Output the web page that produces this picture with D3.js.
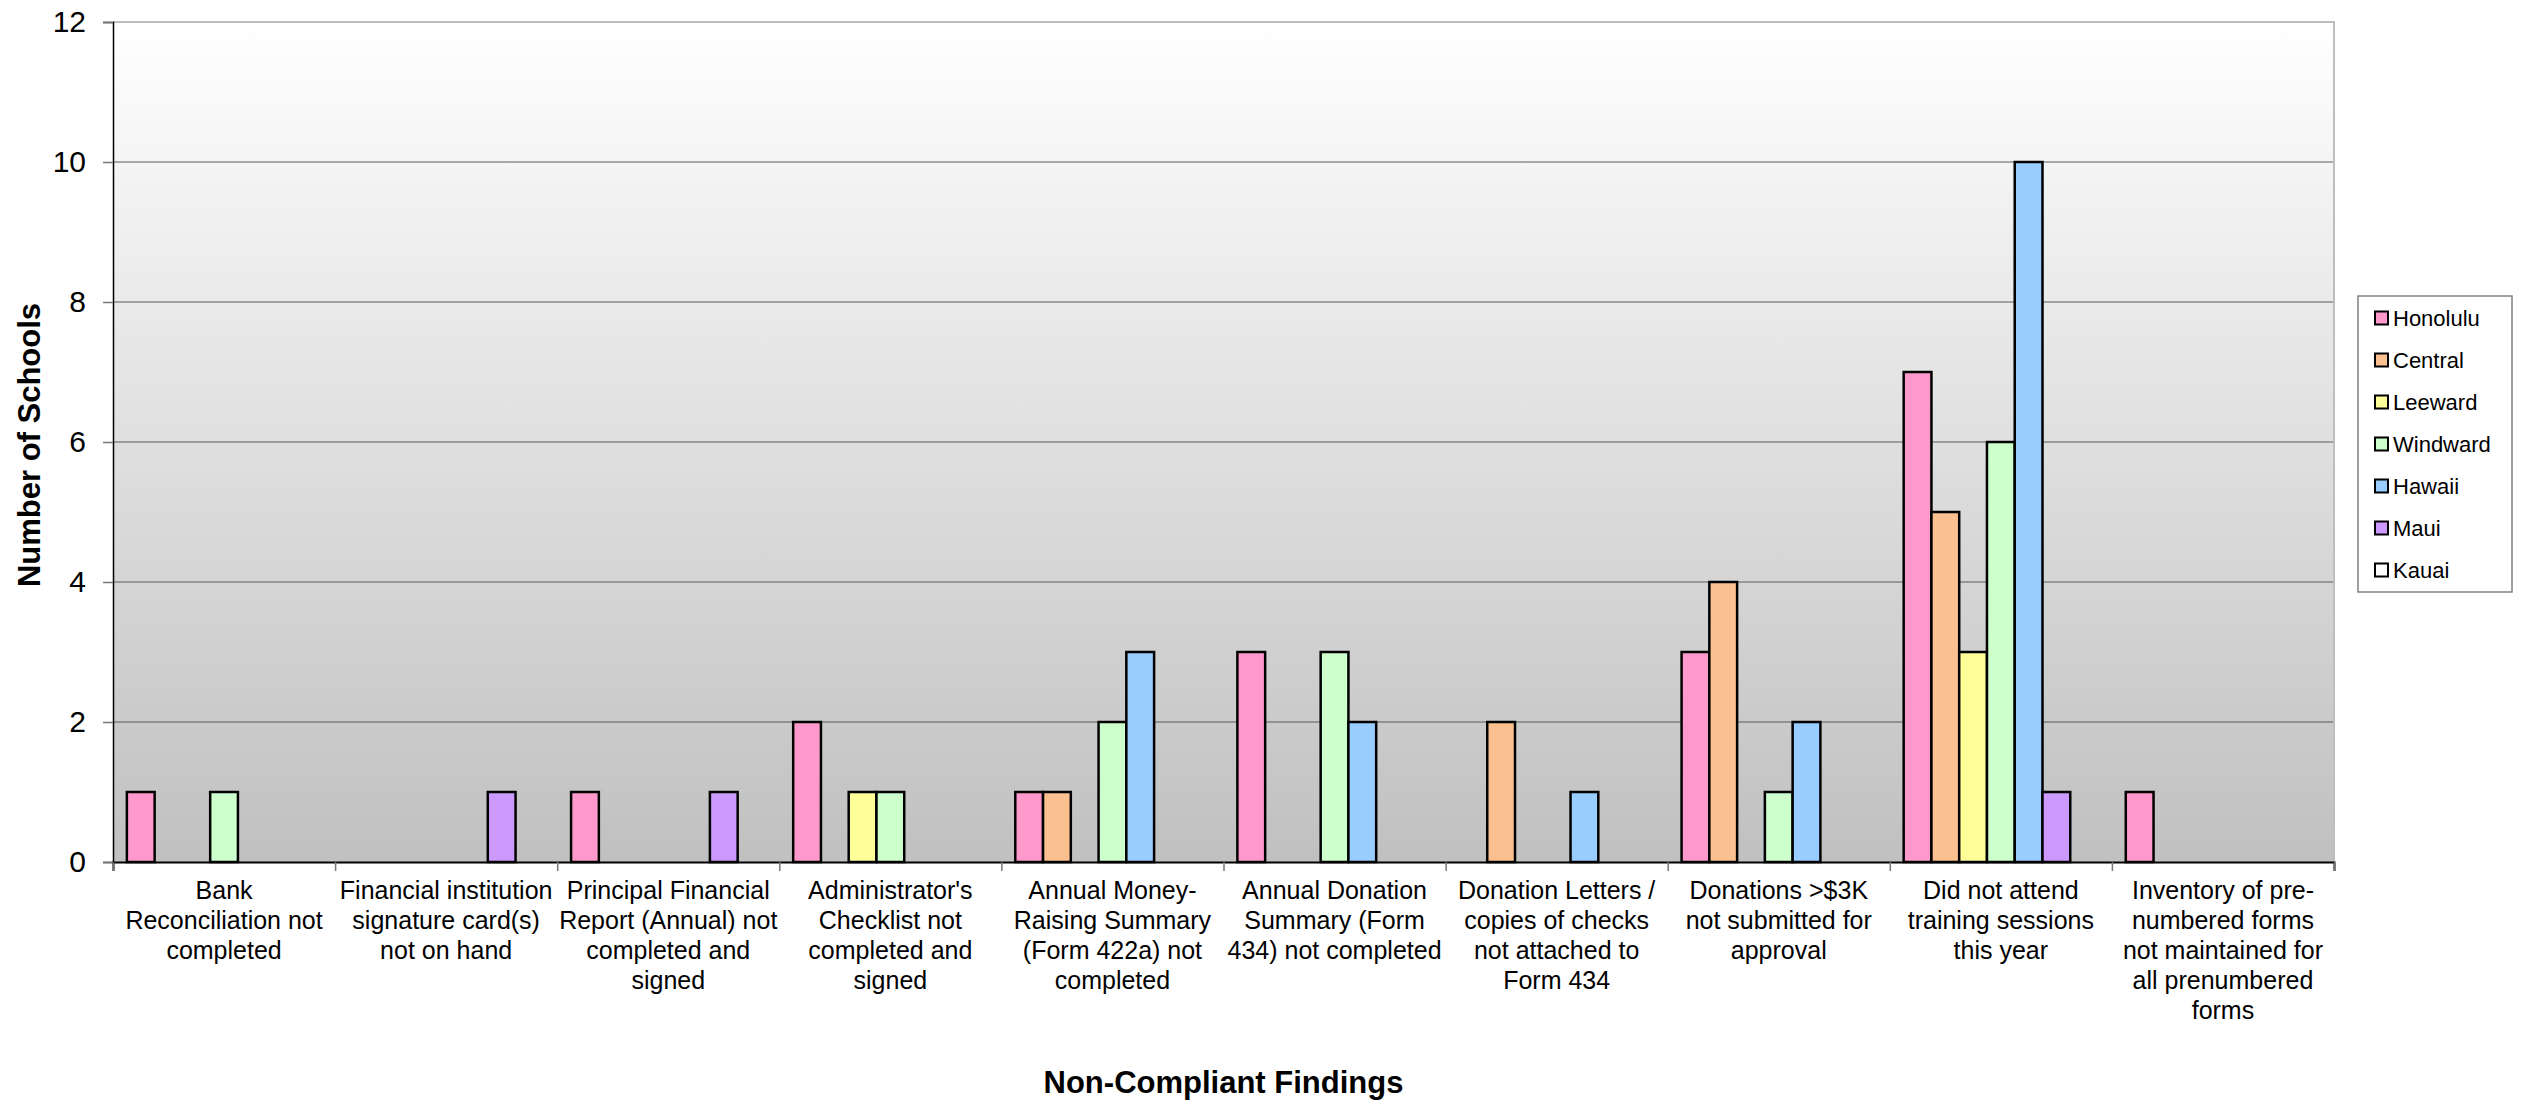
<!DOCTYPE html>
<html>
<head>
<meta charset="utf-8">
<script src="https://cdn.jsdelivr.net/npm/d3@7"></script>
<style>
  html, body { margin: 0; padding: 0; background: #ffffff; }
  svg { display: block; }
  text { font-family: "Liberation Sans", Arial, Helvetica, sans-serif; fill: #000; }
</style>
</head>
<body>
<svg id="chart" width="2529" height="1104"></svg>
<script>
// Findings reviewed, one group of bars per finding
const categories = [
  "Bank Reconciliation not completed",
  "Financial institution signature card(s) not on hand",
  "Principal Financial Report (Annual) not completed and signed",
  "Administrator's Checklist not completed and signed",
  "Annual Money-Raising Summary (Form 422a) not completed",
  "Annual Donation Summary (Form 434) not completed",
  "Donation Letters / copies of checks not attached to Form 434",
  "Donations >$3K not submitted for approval",
  "Did not attend training sessions this year",
  "Inventory of pre-numbered forms not maintained for all prenumbered forms"
];

// Wrapped label lines for each finding
const categoryLines = [
  ["Bank", "Reconciliation not", "completed"],
  ["Financial institution", "signature card(s)", "not on hand"],
  ["Principal Financial", "Report (Annual) not", "completed and", "signed"],
  ["Administrator's", "Checklist not", "completed and", "signed"],
  ["Annual Money-", "Raising Summary", "(Form 422a) not", "completed"],
  ["Annual Donation", "Summary (Form", "434) not completed"],
  ["Donation Letters /", "copies of checks", "not attached to", "Form 434"],
  ["Donations >$3K", "not submitted for", "approval"],
  ["Did not attend", "training sessions", "this year"],
  ["Inventory of pre-", "numbered forms", "not maintained for", "all prenumbered", "forms"]
];

// Districts (series)
const seriesNames = ["Honolulu", "Central", "Leeward", "Windward", "Hawaii", "Maui", "Kauai"];
const seriesColors = ["#FF99CC", "#FAC090", "#FFFF99", "#CCFFCC", "#99CCFF", "#CC99FF", "#FFFFFF"];

// Number of schools per finding, by district
const honolulu = [1, 0, 1, 2, 1, 3, 0, 3, 7, 1];
const central  = [0, 0, 0, 0, 1, 0, 2, 4, 5, 0];
const leeward  = [0, 0, 0, 1, 0, 0, 0, 0, 3, 0];
const windward = [1, 0, 0, 1, 2, 3, 0, 1, 6, 0];
const hawaii   = [0, 0, 0, 0, 3, 2, 1, 2, 10, 0];
const maui     = [0, 1, 1, 0, 0, 0, 0, 0, 1, 0];
const kauai    = [0, 0, 0, 0, 0, 0, 0, 0, 0, 0];

const yTicks = [0, 2, 4, 6, 8, 10, 12];

const seriesValues = [honolulu, central, leeward, windward, hawaii, maui, kauai];

const svg = d3.select("#chart");
const plotLeft = 113, plotRight = 2334, plotTop = 22, plotBottom = 862;

const x0 = d3.scaleBand().domain(categories).range([plotLeft, plotRight]).padding(0);
const x1 = d3.scaleBand().domain(seriesNames).range([0, x0.bandwidth()])
  .paddingInner(0).paddingOuter(0.5);
const y = d3.scaleLinear().domain([0, 12]).range([plotBottom, plotTop]);
const color = d3.scaleOrdinal().domain(seriesNames).range(seriesColors);

// Plot background: white fading to grey
const defs = svg.append("defs");
const grad = defs.append("linearGradient").attr("id", "plotBg")
  .attr("x1", 0).attr("y1", 0).attr("x2", 0).attr("y2", 1);
grad.append("stop").attr("offset", "0%").attr("stop-color", "#FFFFFF");
grad.append("stop").attr("offset", "100%").attr("stop-color", "#C0C0C0");

svg.append("rect")
  .attr("x", plotLeft).attr("y", plotTop)
  .attr("width", plotRight - plotLeft).attr("height", plotBottom - plotTop)
  .attr("fill", "url(#plotBg)");

// Horizontal gridlines
svg.append("g")
  .selectAll("line")
  .data(yTicks.filter(t => t > 0 && t < 12))
  .join("line")
  .attr("x1", plotLeft).attr("x2", plotRight)
  .attr("y1", d => y(d)).attr("y2", d => y(d))
  .attr("stroke", "#5a5a5a").attr("stroke-width", 1);

// Plot border on top and right
svg.append("path")
  .attr("d", `M${plotLeft},${plotTop}H${plotRight}V${plotBottom}`)
  .attr("fill", "none").attr("stroke", "#BEBEBE").attr("stroke-width", 2);

// Bars
const barData = [];
categories.forEach((c, ci) => {
  seriesNames.forEach((s, si) => {
    const v = seriesValues[si][ci];
    if (v > 0) barData.push({ category: c, series: s, value: v });
  });
});

svg.append("g")
  .selectAll("rect")
  .data(barData)
  .join("rect")
  .attr("x", d => x0(d.category) + x1(d.series))
  .attr("y", d => y(d.value))
  .attr("width", x1.bandwidth())
  .attr("height", d => y(0) - y(d.value))
  .attr("fill", d => color(d.series))
  .attr("stroke", "#000")
  .attr("stroke-width", 2.5);

// Y axis
const yAxis = svg.append("g")
  .attr("transform", `translate(${plotLeft},0)`)
  .call(d3.axisLeft(y).tickValues(yTicks).tickSize(10).tickPadding(17).tickFormat(d3.format("d")));
yAxis.select(".domain").attr("stroke", "#000").attr("stroke-width", 1.5);
yAxis.selectAll(".tick line").attr("stroke", "#777").attr("stroke-width", 1.5);
yAxis.selectAll(".tick text")
  .style("font-family", "'Liberation Sans', Arial, sans-serif")
  .style("font-size", "30px")
  .attr("fill", "#000");

// X axis: boundary ticks between categories
const xEdge = d3.scaleLinear().domain([0, categories.length]).range([plotLeft, plotRight]);
const xAxis = svg.append("g")
  .attr("transform", `translate(0,${plotBottom})`)
  .call(d3.axisBottom(xEdge).tickValues(d3.range(categories.length + 1)).tickSize(9).tickFormat(""));
xAxis.select(".domain").attr("stroke", "#000").attr("stroke-width", 2);
xAxis.selectAll(".tick line").attr("stroke", "#777").attr("stroke-width", 1.5);

// X axis: wrapped category labels
const labels = svg.append("g")
  .attr("transform", `translate(0,${plotBottom})`)
  .call(d3.axisBottom(x0).tickSize(0).tickFormat(""));
labels.select(".domain").remove();
labels.selectAll(".tick").each(function(d, i) {
  const t = d3.select(this).append("text")
    .attr("text-anchor", "middle")
    .style("font-family", "'Liberation Sans', Arial, sans-serif")
    .style("font-size", "25px")
    .attr("fill", "#000");
  categoryLines[i].forEach((line, li) => {
    t.append("tspan").attr("x", 0).attr("y", 37 + li * 30).text(line);
  });
});

// Axis titles
svg.append("text")
  .attr("x", (plotLeft + plotRight) / 2)
  .attr("y", 1093)
  .attr("text-anchor", "middle")
  .style("font-size", "31px")
  .style("font-weight", "bold")
  .text("Non-Compliant Findings");

svg.append("text")
  .attr("transform", "translate(40,445) rotate(-90)")
  .attr("text-anchor", "middle")
  .style("font-size", "31px")
  .style("font-weight", "bold")
  .text("Number of Schools");

// Legend
const legend = svg.append("g");
legend.append("rect")
  .attr("x", 2358).attr("y", 296)
  .attr("width", 154).attr("height", 296)
  .attr("fill", "#fff").attr("stroke", "#808080").attr("stroke-width", 1.5);

const item = legend.selectAll("g.item")
  .data(seriesNames)
  .join("g")
  .attr("class", "item")
  .attr("transform", (d, i) => `translate(2375,${318 + i * 42})`);
item.append("rect")
  .attr("x", 0).attr("y", -6.5)
  .attr("width", 13).attr("height", 13)
  .attr("fill", d => color(d))
  .attr("stroke", "#000").attr("stroke-width", 2);
item.append("text")
  .attr("x", 18).attr("y", 8)
  .style("font-size", "22px")
  .text(d => d);
</script>
</body>
</html>
